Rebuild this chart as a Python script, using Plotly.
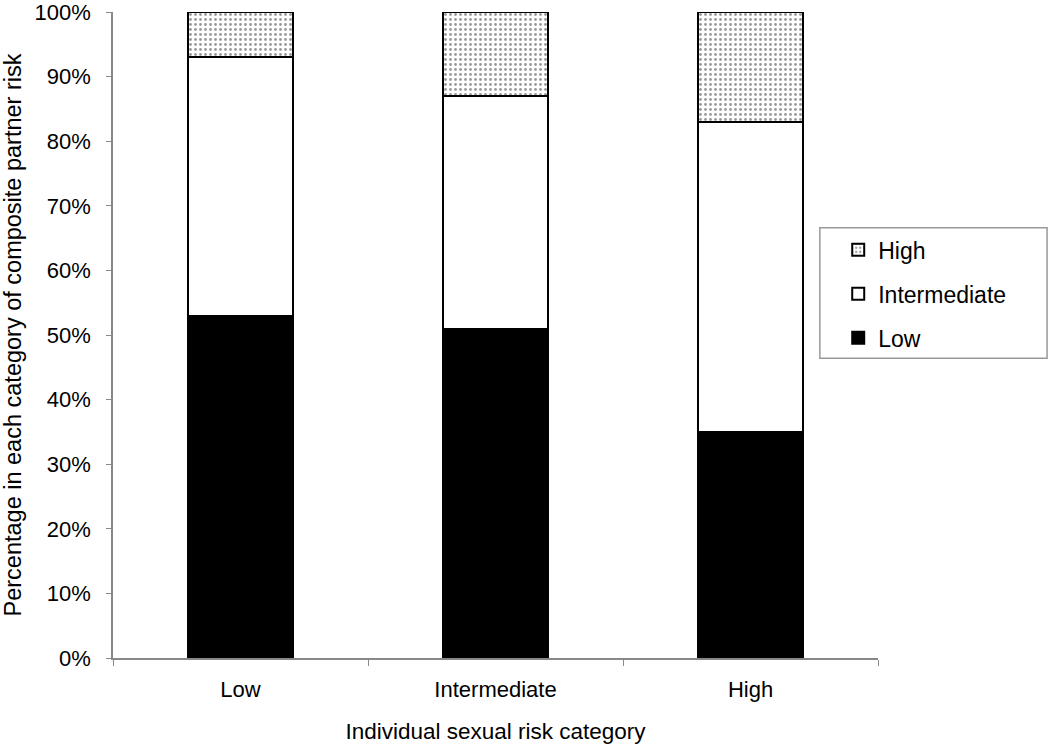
import plotly.graph_objects as go

categories = ["Low", "Intermediate", "High"]
low_partner = [53, 51, 35]
intermediate_partner = [40, 36, 48]
high_partner = [7, 13, 17]
y_ticks = [0, 10, 20, 30, 40, 50, 60, 70, 80, 90, 100]
y_tick_labels = [f"{v}%" for v in y_ticks]

FONT = "Liberation Sans, Arial, sans-serif"

fig = go.Figure()
fig.add_trace(go.Bar(
    x=categories, y=low_partner, name="Low", legendgroup="a", legendrank=3,
    marker=dict(color="black", line=dict(color="black", width=2)),
))
fig.add_trace(go.Bar(
    x=categories, y=intermediate_partner, name="Intermediate", legendgroup="b",
    legendrank=2,
    marker=dict(color="white", line=dict(color="black", width=2)),
))
fig.add_trace(go.Bar(
    x=categories, y=high_partner, name="High", legendgroup="c", legendrank=1,
    marker=dict(color="white", line=dict(color="black", width=2),
                pattern=dict(shape=".", fgcolor="#333333", bgcolor="white",
                             size=5, solidity=0.25)),
))

# legend frame (paper coordinates)
fig.add_shape(type="rect", xref="paper", yref="paper",
              x0=0.924, x1=1.221, y0=0.464, y1=0.666,
              line=dict(color="#999999", width=1.5), fillcolor="rgba(0,0,0,0)",
              layer="below")

fig.update_layout(
    barmode="stack",
    bargap=0.59,
    width=1050, height=745,
    margin=dict(l=113, r=172, t=12, b=87),
    paper_bgcolor="white", plot_bgcolor="white",
    font=dict(family=FONT, size=22, color="black"),
    showlegend=True,
    legend=dict(
        x=0.948, y=0.665, xanchor="left", yanchor="top",
        traceorder="grouped", tracegroupgap=11,
        borderwidth=0, bgcolor="rgba(0,0,0,0)",
        font=dict(size=23, family=FONT),
    ),
    xaxis=dict(
        automargin=False,
        showline=True, linecolor="#888888", linewidth=1.5,
        ticks="outside", tickcolor="#888888", ticklen=6, tickson="boundaries",
        showgrid=False,
        ticklabelstandoff=11,
        title=dict(text="Individual sexual risk category", standoff=22,
                   font=dict(size=22.5)),
        tickfont=dict(size=22),
    ),
    yaxis=dict(
        automargin=False,
        range=[0, 100],
        tickvals=y_ticks, ticktext=y_tick_labels,
        showline=True, linecolor="#888888", linewidth=1.5,
        ticks="outside", tickcolor="#888888", ticklen=5,
        ticklabelstandoff=11, ticklabeloverflow="allow",
        showgrid=False, zeroline=False,
        title=dict(text="Percentage in each category of composite partner risk",
                   standoff=24, font=dict(size=23.5)),
        tickfont=dict(size=22),
    ),
)

fig.write_html("out.html", config={"displayModeBar": False},
               post_script="document.body.style.margin='0';")
